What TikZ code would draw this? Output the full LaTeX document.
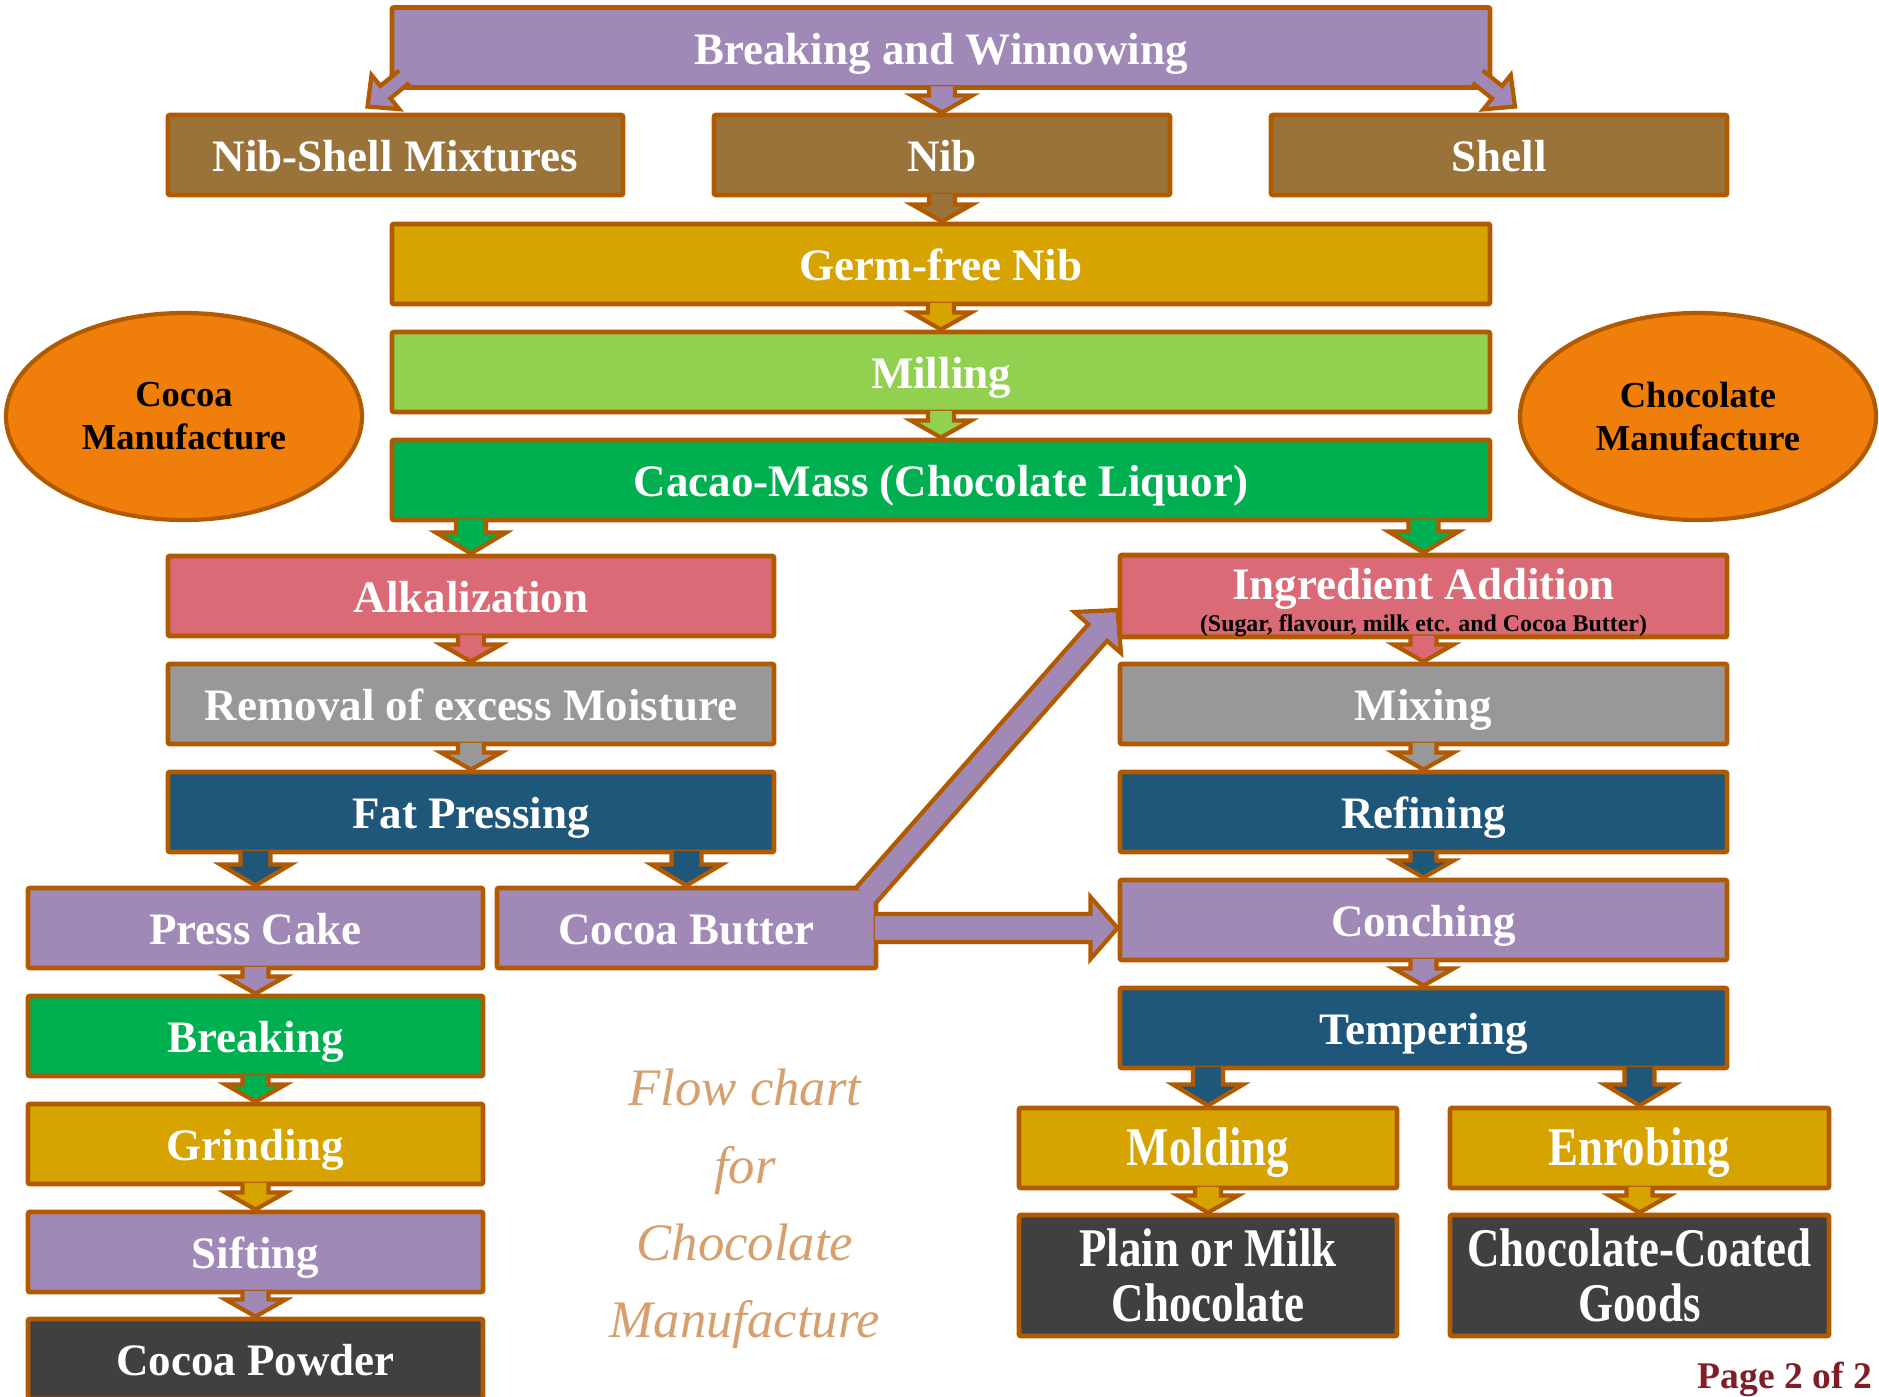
\documentclass[tikz,border=0pt]{standalone}
\usepackage{fontspec}
\setmainfont{Liberation Serif}
\usepackage{xcolor}
\usetikzlibrary{shapes.geometric,calc}

\definecolor{edge}{RGB}{178,90,0}
\definecolor{lilac}{RGB}{160,137,183}
\definecolor{nibbrown}{RGB}{153,115,58}
\definecolor{mustard}{RGB}{214,163,0}
\definecolor{lime}{RGB}{146,208,80}
\definecolor{leaf}{RGB}{0,176,80}
\definecolor{rose}{RGB}{217,106,118}
\definecolor{stone}{RGB}{152,152,152}
\definecolor{deepblue}{RGB}{31,87,122}
\definecolor{coal}{RGB}{64,64,64}
\definecolor{pumpkin}{RGB}{239,127,10}
\definecolor{pagered}{RGB}{128,30,40}
\definecolor{peach}{RGB}{214,160,110}

\begin{document}
\begin{tikzpicture}[
    box/.style={draw=edge, line width=1.4pt, rounded corners=0.6pt, minimum height=0.8cm, inner sep=0pt,
        text=white, font=\bfseries\fontsize{12.8}{15}\selectfont},
    proc/.style={box, text height=12.6pt, text depth=3pt},
    tall/.style={box, font=\bfseries\fontsize{15.5}{15.5}\selectfont},
    oval/.style={ellipse, draw=edge, line width=1.2pt, fill=pumpkin, minimum width=3.56cm, minimum height=2.07cm,
        inner sep=0pt, align=center, font=\bfseries\fontsize{10.4}{12.2}\selectfont},
    shaftw/.initial=0.13, headw/.initial=0.30, headl/.initial=0.17,
    big/.style={shaftw=0.15, headw=0.35, headl=0.21},
    blk/.style={draw=edge, line width=1.2pt, line join=miter, fill=#1,
        to path={let \p1=(\tikztostart), \p2=(\tikztotarget), \n1={atan2(\y2-\y1,\x2-\x1)} in
            ($(\p1)+(\n1+180:1pt)+(\n1+90:\pgfkeysvalueof{/tikz/shaftw})$)
            -- ($(\p2)+(\n1+180:\pgfkeysvalueof{/tikz/headl})+(\n1+90:\pgfkeysvalueof{/tikz/shaftw})$)
            -- ($(\p2)+(\n1+180:\pgfkeysvalueof{/tikz/headl})+(\n1+90:\pgfkeysvalueof{/tikz/headw})$)
            -- (\p2)
            -- ($(\p2)+(\n1+180:\pgfkeysvalueof{/tikz/headl})+(\n1-90:\pgfkeysvalueof{/tikz/headw})$)
            -- ($(\p2)+(\n1+180:\pgfkeysvalueof{/tikz/headl})+(\n1-90:\pgfkeysvalueof{/tikz/shaftw})$)
            -- ($(\p1)+(\n1+180:1pt)+(\n1-90:\pgfkeysvalueof{/tikz/shaftw})$)}}
]
    \useasboundingbox (0,0) rectangle (18.79,-13.97);

    % common part
    \node[proc, fill=lilac, minimum width=10.98cm] (bw) at (9.41,-0.475) {Breaking and Winnowing};
    \node[proc, fill=nibbrown, minimum width=4.55cm] (nsm) at (3.955,-1.55) {Nib-Shell Mixtures};
    \node[proc, fill=nibbrown, minimum width=4.56cm] (nib) at (9.42,-1.55) {Nib};
    \node[proc, fill=nibbrown, minimum width=4.56cm] (shell) at (14.99,-1.55) {Shell};
    \node[proc, fill=mustard, minimum width=10.98cm] (germ) at (9.41,-2.64) {Germ-free Nib};
    \node[proc, fill=lime, minimum width=10.98cm] (mill) at (9.41,-3.72) {Milling};
    \node[proc, fill=leaf, minimum width=10.98cm] (mass) at (9.41,-4.80) {Cacao-Mass (Chocolate Liquor)};

    \node[oval] (cocoa) at (1.84,-4.165) {Cocoa\\Manufacture};
    \node[oval] (choc) at (16.98,-4.165) {Chocolate\\Manufacture};

    % cocoa line
    \node[proc, fill=rose, minimum width=6.06cm] (alk) at (4.71,-5.96) {Alkalization};
    \node[proc, fill=stone, minimum width=6.06cm] (rem) at (4.71,-7.04) {Removal of excess Moisture};
    \node[proc, fill=deepblue, minimum width=6.06cm] (fat) at (4.71,-8.12) {Fat Pressing};
    \node[proc, fill=lilac, minimum width=4.55cm] (cake) at (2.555,-9.28) {Press Cake};
    \node[proc, fill=lilac, minimum width=3.79cm] (butter) at (6.865,-9.28) {Cocoa Butter};
    \node[proc, fill=leaf, minimum width=4.55cm] (brk) at (2.555,-10.36) {Breaking};
    \node[proc, fill=mustard, minimum width=4.55cm] (grind) at (2.555,-11.44) {Grinding};
    \node[proc, fill=lilac, minimum width=4.55cm] (sift) at (2.555,-12.52) {Sifting};
    \node[proc, fill=coal, minimum width=4.55cm] (powder) at (2.555,-13.59) {Cocoa Powder};

    % chocolate line
    \node[box, fill=rose, minimum width=6.07cm, align=center] (ingr) at (14.235,-5.96)
        {\rule{0pt}{12.7pt}Ingredient Addition\\[-5.9pt]{\fontsize{6.8}{7}\selectfont\color{black}(Sugar, flavour, milk etc. and Cocoa Butter)}};
    \node[proc, fill=stone, minimum width=6.07cm] (mix) at (14.235,-7.04) {Mixing};
    \node[proc, fill=deepblue, minimum width=6.07cm] (refine) at (14.235,-8.12) {Refining};
    \node[proc, fill=lilac, minimum width=6.07cm] (conch) at (14.235,-9.20) {Conching};
    \node[proc, fill=deepblue, minimum width=6.07cm] (temper) at (14.235,-10.28) {Tempering};
    \node[tall, fill=mustard, minimum width=3.78cm, text height=14.5pt, text depth=4.3pt] (mold) at (12.08,-11.48) {\scalebox{0.825}[1]{Molding}};
    \node[tall, fill=mustard, minimum width=3.79cm, text height=14.5pt, text depth=4.3pt] (enrob) at (16.395,-11.48) {\scalebox{0.825}[1]{Enrobing}};
    \node[tall, fill=coal, minimum width=3.78cm, minimum height=1.21cm, align=center] (plain) at (12.08,-12.755)
        {\scalebox{0.825}[1]{Plain or Milk}\\\scalebox{0.825}[1]{Chocolate}};
    \node[tall, fill=coal, minimum width=3.79cm, minimum height=1.21cm, align=center] (goods) at (16.395,-12.755)
        {\scalebox{0.825}[1]{Chocolate-Coated}\\\scalebox{0.825}[1]{Goods}};

    \node[align=center, text=peach, font=\itshape\fontsize{15}{22}\selectfont] (title) at (7.45,-12.09)
        {Flow chart\\for\\Chocolate\\Manufacture};
    \node[anchor=base west, inner sep=0pt, text=pagered, font=\bfseries\fontsize{10.7}{12}\selectfont] (page) at (16.97,-13.88) {Page 2 of 2};

    % block arrows
    \draw[blk=lilac, shaftw=0.08, headw=0.22, headl=0.23] ([xshift=0.12cm,yshift=0.11cm]bw.south west) to ([xshift=-0.28cm,yshift=0.06cm]nsm.north);
    \draw[blk=lilac] (bw.south -| nib.north) to (nib.north);
    \draw[blk=lilac, shaftw=0.08, headw=0.22, headl=0.23] ([xshift=-0.12cm,yshift=0.11cm]bw.south east) to ([xshift=0.16cm,yshift=0.06cm]shell.north);
    \draw[blk=nibbrown] (nib.south) to (nib.south |- germ.north);
    \draw[blk=mustard] (germ.south -| mill.north) to (mill.north);
    \draw[blk=lime] (mill.south) to (mass.north);
    \draw[blk=leaf, big] (mass.south -| alk.north) to (alk.north);
    \draw[blk=leaf, big] (mass.south -| ingr.north) to (ingr.north);
    \draw[blk=rose] (alk.south) to (rem.north);
    \draw[blk=stone] (rem.south) to (fat.north);
    \draw[blk=deepblue, big] (fat.south -| cake.north) to (cake.north);
    \draw[blk=deepblue, big] (fat.south -| butter.north) to (butter.north);
    \draw[blk=lilac] (cake.south) to (brk.north);
    \draw[blk=leaf] (brk.south) to (grind.north);
    \draw[blk=mustard] (grind.south) to (sift.north);
    \draw[blk=lilac] (sift.south) to (powder.north);
    % butter goes over to the chocolate line
    \draw[blk=lilac, shaftw=0.125, headw=0.31, headl=0.30] ([xshift=-0.1cm,yshift=-0.07cm]butter.north east) to ([yshift=-0.14cm]ingr.west);
    \draw[blk=lilac, shaftw=0.14, headw=0.31, headl=0.27] (butter.east) to (butter.east -| conch.west);
    \draw[blk=rose] (ingr.south) to (mix.north);
    \draw[blk=stone] (mix.south) to (refine.north);
    \draw[blk=deepblue] (refine.south) to (conch.north);
    \draw[blk=lilac] (conch.south) to (temper.north);
    \draw[blk=deepblue, big] (temper.south -| mold.north) to (mold.north);
    \draw[blk=deepblue, big] (temper.south -| enrob.north) to (enrob.north);
    \draw[blk=mustard] (mold.south) to (plain.north);
    \draw[blk=mustard] (enrob.south) to (goods.north);
\end{tikzpicture}
\end{document}
